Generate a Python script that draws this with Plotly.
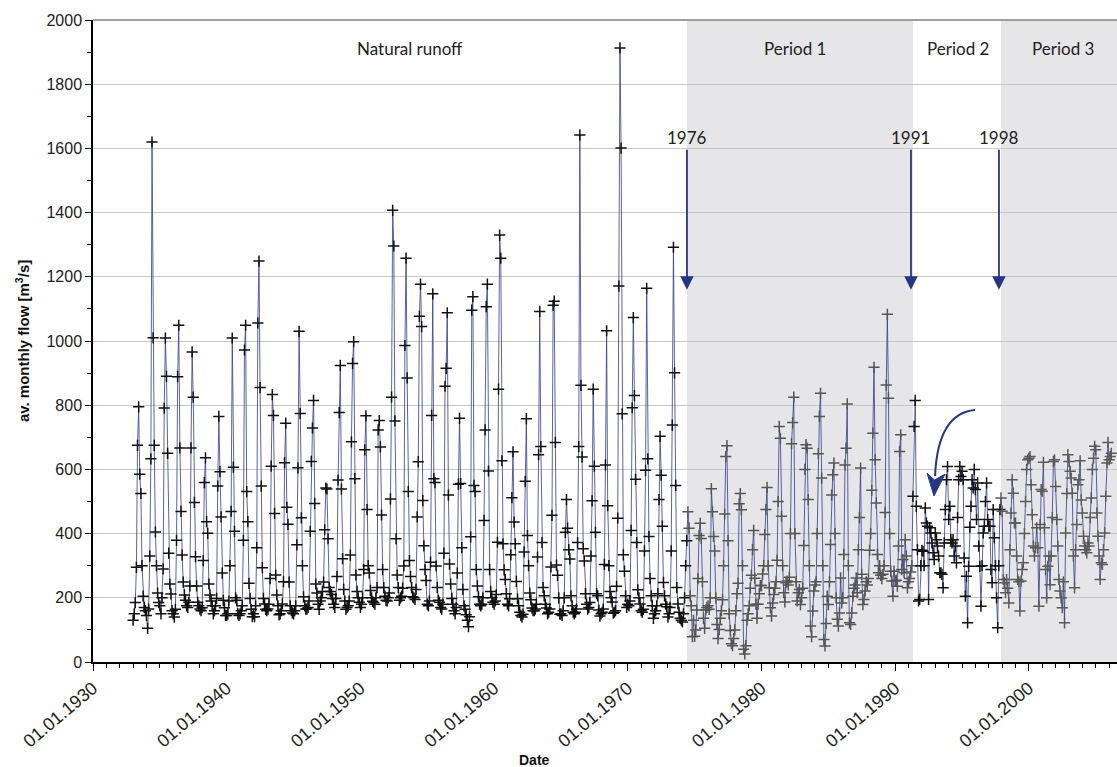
import pandas as pd
import plotly.graph_objects as go

# ---------------- data (monthly mean flow, m3/s), starting Jan 1933 ----------------
series_start = "1933-01-01"

flow_1930s = [
    130, 150, 185, 295, 675, 795, 585, 525, 300, 205, 170, 160,
    145, 105, 165, 330, 633, 1620, 1010, 675, 405, 300, 215, 185,
    175, 150, 200, 290, 791, 1009, 890, 650, 339, 243, 212, 160,
    150, 140, 164, 379, 889, 1049, 667, 469, 333, 249, 209, 192,
    175, 170, 186, 237, 667, 966, 825, 497, 328, 237, 186, 175,
    165, 160, 169, 316, 559, 636, 437, 401, 243, 209, 190, 175,
    150, 160, 175, 198, 548, 765, 593, 452, 277, 192, 169, 145,
]
flow_1940s = [
    145, 150, 190, 300, 469, 1009, 607, 407, 200, 192, 150, 145,
    150, 160, 175, 379, 972, 1049, 531, 437, 245, 198, 164, 141,
    150, 141, 175, 356, 1056, 1249, 855, 548, 294, 198, 181, 164,
    160, 165, 180, 260, 610, 833, 768, 463, 271, 209, 175, 147,
    150, 160, 181, 250, 621, 744, 482, 429, 249, 175, 160, 153,
    150, 160, 175, 365, 605, 1030, 774, 449, 300, 203, 175, 165,
    165, 170, 190, 407, 625, 729, 815, 494, 243, 215, 180, 164,
    190, 200, 220, 249, 412, 542, 539, 384, 232, 220, 210, 198,
    180, 170, 198, 266, 567, 777, 924, 539, 322, 226, 190, 164,
    170, 175, 190, 333, 686, 930, 998, 571, 271, 220, 200, 186,
]
flow_1950s = [
    170, 180, 200, 288, 661, 767, 475, 300, 277, 223, 200, 189,
    185, 180, 200, 232, 723, 752, 670, 458, 288, 232, 205, 192,
    190, 200, 215, 508, 825, 1407, 1296, 751, 384, 271, 232, 192,
    200, 205, 230, 299, 986, 1258, 885, 531, 316, 266, 232, 203,
    200, 195, 226, 452, 624, 1077, 1177, 1045, 503, 362, 288, 254,
    180, 175, 190, 311, 768, 1147, 571, 559, 299, 232, 192, 186,
    170, 165, 180, 339, 859, 915, 1088, 520, 305, 243, 198, 180,
    160, 150, 170, 277, 554, 759, 556, 356, 226, 175, 164, 147,
    130, 110, 141, 390, 1096, 1138, 550, 531, 288, 237, 203, 180,
    175, 180, 200, 441, 723, 1107, 1177, 595, 288, 220, 200, 186,
]
flow_1960s = [
    180, 190, 210, 373, 850, 1330, 1258, 627, 368, 287, 257, 213,
    180, 175, 197, 334, 512, 655, 436, 368, 251, 197, 175, 155,
    145, 140, 149, 343, 563, 758, 394, 300, 215, 194, 168, 160,
    160, 165, 180, 327, 646, 1092, 671, 372, 232, 206, 180, 168,
    150, 155, 165, 296, 457, 1111, 1124, 684, 302, 270, 200, 149,
    150, 145, 160, 200, 404, 506, 417, 350, 321, 206, 175, 155,
    150, 155, 165, 372, 671, 1642, 862, 639, 353, 315, 213, 180,
    165, 170, 185, 330, 502, 850, 610, 404, 213, 206, 162, 143,
    150, 155, 165, 304, 614, 1032, 487, 300, 220, 200, 187, 152,
    155, 160, 236, 448, 1171, 1913, 1601, 773, 334, 283, 206, 170,
]
flow_1970s = [
    180, 175, 190, 410, 792, 1073, 830, 569, 372, 225, 200, 181,
    160, 155, 164, 346, 597, 1164, 633, 391, 260, 206, 175, 136,
    150, 160, 175, 213, 506, 703, 582, 423, 248, 206, 180, 172,
    140, 150, 170, 346, 738, 1292, 901, 550, 232, 181, 155, 136,
    130, 125, 150, 200, 300, 378, 468, 417, 206, 175, 79, 130,
    80, 100, 162, 260, 394, 432, 385, 250, 136, 105, 162, 170,
    175, 164, 200, 540, 468, 391, 346, 200, 117, 73, 101, 136,
    160, 194, 300, 461, 640, 674, 378, 150, 98, 57, 51, 73,
    100, 160, 213, 245, 493, 525, 474, 300, 40, 25, 51, 130,
    150, 175, 230, 270, 350, 410, 261, 180, 136, 180, 213, 238,
]
flow_1980s = [
    238, 274, 300, 397, 475, 544, 300, 231, 169, 143, 184, 210,
    230, 250, 317, 500, 734, 697, 454, 300, 216, 187, 247, 252,
    240, 264, 400, 680, 746, 825, 400, 250, 190, 216, 226, 179,
    200, 230, 363, 600, 677, 666, 506, 300, 112, 79, 159, 221,
    240, 250, 400, 649, 765, 837, 573, 300, 70, 50, 120, 205,
    179, 250, 366, 520, 583, 620, 400, 200, 133, 112, 153, 262,
    184, 200, 335, 614, 666, 804, 300, 122, 117, 153, 205, 230,
    240, 262, 216, 350, 450, 604, 273, 179, 195, 221, 250, 240,
    260, 348, 400, 535, 713, 918, 630, 495, 335, 278, 300, 270,
    260, 273, 300, 466, 863, 1083, 822, 400, 283, 252, 205, 283,
]
flow_1990s = [
    252, 255, 236, 361, 656, 708, 288, 319, 278, 381, 330, 231,
    250, 260, 280, 300, 516, 734, 815, 485, 350, 190, 195, 300,
    348, 345, 300, 480, 433, 423, 195, 418, 402, 371, 340, 319,
    402, 381, 361, 330, 278, 278, 273, 231, 371, 475, 568, 609,
    444, 485, 381, 371, 381, 330, 361, 309, 450, 568, 609, 578,
    594, 568, 324, 205, 267, 122, 298, 420, 485, 568, 542, 600,
    537, 444, 558, 361, 298, 174, 300, 402, 423, 500, 558, 444,
    423, 423, 288, 247, 475, 387, 300, 200, 107, 300, 475, 511,
    470, 257, 247, 216, 257, 230, 184, 350, 464, 568, 526, 433,
    433, 330, 257, 250, 159, 252, 288, 309, 400, 500, 600, 630,
]
flow_2000s = [
    635, 640, 552, 459, 361, 330, 356, 418, 356, 174, 428, 537,
    532, 622, 418, 288, 200, 298, 330, 241, 330, 450, 625, 630,
    547, 444, 361, 257, 221, 200, 169, 250, 122, 402, 525, 646,
    625, 594, 573, 526, 330, 231, 350, 428, 552, 568, 627, 505,
    464, 392, 361, 350, 340, 371, 361, 450, 511, 600, 635, 672,
    661, 464, 392, 330, 257, 309, 304, 350, 402, 516, 620, 684,
    630, 640, 650,
]

# period boundaries and labels
period_bounds = ["1974-06-05", "1991-05-01", "1997-11-28", "2006-08-04"]
period_names = ["Period 1", "Period 2", "Period 3"]
arrow_years = ["1976", "1991", "1998"]
arrow_dates = ["1974-06-05", "1991-03-08", "1997-10-05"]

values = flow_1930s + flow_1940s + flow_1950s + flow_1960s + flow_1970s + flow_1980s + flow_1990s + flow_2000s
dates = pd.date_range(series_start, periods=len(values), freq="MS")

b = [pd.Timestamp(d) for d in period_bounds]
marker_colors = []
for d in dates:
    if d < b[0]:
        marker_colors.append("#111111")
    elif d < b[1]:
        marker_colors.append("#555555")
    elif d < b[2]:
        marker_colors.append("#111111")
    else:
        marker_colors.append("#5a5a5a")

NAVY = "#283580"

fig = go.Figure()
fig.add_trace(go.Scatter(
    x=dates, y=values, mode="lines+markers",
    line=dict(color="rgba(50,60,145,0.8)", width=1),
    marker=dict(symbol="cross-thin", size=8, line=dict(width=1.5, color=marker_colors)),
    showlegend=False, hoverinfo="x+y",
))

shapes = [
    dict(type="rect", xref="x", yref="paper", x0=b[0], x1=b[1], y0=0, y1=1,
         fillcolor="#e6e6e8", line=dict(width=0), layer="below"),
    dict(type="rect", xref="x", yref="paper", x0=b[2], x1=b[3], y0=0, y1=1,
         fillcolor="#e6e6e8", line=dict(width=0), layer="below"),
    dict(type="line", xref="paper", yref="paper", x0=0, x1=1, y0=1, y1=1,
         line=dict(color="#808080", width=1.5)),
    # curved arrow (paper coordinates)
    dict(type="path", xref="paper", yref="paper",
         path="M 0.8613 0.3925 C 0.8389 0.3894, 0.8242 0.3583, 0.8223 0.2897",
         line=dict(color=NAVY, width=2)),
    dict(type="path", xref="paper", yref="paper",
         path="M 0.8213 0.2586 L 0.8145 0.2940 L 0.8218 0.2835 L 0.8320 0.2925 Z",
         fillcolor=NAVY, line=dict(color=NAVY, width=1)),
]

label_font = dict(family="Lato, Open Sans, sans-serif", size=17, color="#222222")
annotations = [
    dict(x="1953-09-15", y=0.956, xref="x", yref="paper", text="Natural runoff",
         yanchor="middle", showarrow=False, font=label_font),
    dict(x="1982-07-01", y=0.956, xref="x", yref="paper", text=period_names[0],
         yanchor="middle", showarrow=False, font=label_font),
    dict(x="1994-09-10", y=0.956, xref="x", yref="paper", text=period_names[1],
         yanchor="middle", showarrow=False, font=label_font),
    dict(x="2002-08-01", y=0.956, xref="x", yref="paper", text=period_names[2],
         yanchor="middle", showarrow=False, font=label_font),
]
for yr, d in zip(arrow_years, arrow_dates):
    annotations.append(dict(
        x=d, y=1160, xref="x", yref="y", text=yr, showarrow=True,
        ax=0, ay=-152, arrowhead=2, arrowsize=1.5, arrowwidth=1.8,
        arrowcolor=NAVY, standoff=0, font=label_font))

annotations.append(dict(x=0.4316, y=-0.1527, xref="paper", yref="paper", text="<b>Date</b>",
                        xanchor="center", yanchor="middle",
                        showarrow=False, font=dict(family="Liberation Sans, Arial", size=14, color="#111")))
annotations.append(dict(x=-0.0693, y=0.5, xref="paper", yref="paper",
                        text="<b>av. monthly flow [m<sup>3</sup>/s]</b>", textangle=-90,
                        xanchor="center", yanchor="middle",
                        showarrow=False, font=dict(family="Liberation Sans, Arial", size=15, color="#111")))

tick_font = dict(family="Liberation Sans, Arial", size=16, color="#222222")
fig.update_layout(
    width=1117, height=767,
    margin=dict(l=93, r=0, t=20, b=105),
    paper_bgcolor="white", plot_bgcolor="white",
    shapes=shapes, annotations=annotations,
    xaxis=dict(
        type="date", range=["1930-01-01", period_bounds[3]],
        tick0="1930-01-01", dtick="M120", tickformat="%d.%m.%Y", tickangle=-40,
        ticks="outside", ticklen=7, tickcolor="black", tickwidth=1,
        minor=dict(dtick="M12", ticks="outside", ticklen=4, tickcolor="black"),
        showline=True, linecolor="black", linewidth=1.5, showgrid=False,
        zeroline=False, tickfont=dict(family="Liberation Sans, Arial", size=18, color="#222222"),
    ),
    yaxis=dict(
        range=[0, 2000], dtick=200, ticks="outside", ticklen=6, tickcolor="black",
        minor=dict(dtick=100, ticks="outside", ticklen=4, tickcolor="black"),
        showline=True, linecolor="black", linewidth=1.5,
        showgrid=True, gridcolor="#c8c8c8", gridwidth=1, zeroline=False,
        tickfont=tick_font,
    ),
)

fig.write_html(
    "out.html",
    config={"displayModeBar": False},
    post_script="document.body.style.margin='0px';document.body.style.overflow='hidden';",
)
